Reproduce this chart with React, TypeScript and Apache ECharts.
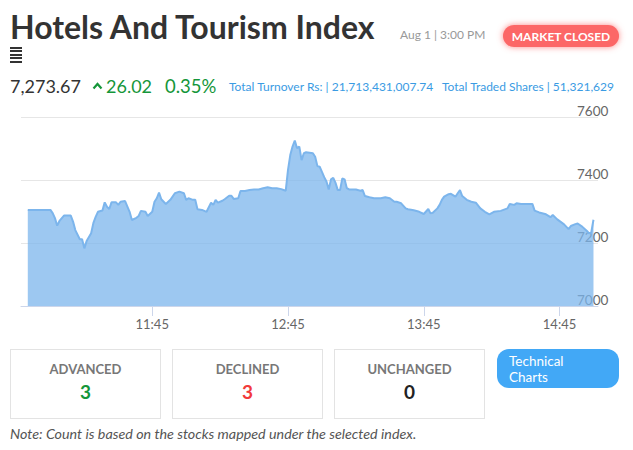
import { useEffect, useRef } from 'react';
import * as echarts from 'echarts';

// 指数分时数据（时间 / 点位）
const times = [
  '10:50', '11:00', '11:01', '11:02', '11:03', '11:04', '11:06', '11:09', '11:10', '11:11',
  '11:13', '11:14', '11:15', '11:16', '11:18', '11:19', '11:20', '11:21', '11:23', '11:24',
  '11:25', '11:26', '11:27', '11:29', '11:30', '11:31', '11:33', '11:35', '11:36', '11:38',
  '11:39', '11:40', '11:42', '11:43', '11:45', '11:46', '11:47', '11:48', '11:49', '11:51',
  '11:53', '11:55', '11:57', '11:59', '12:00', '12:01', '12:03', '12:04', '12:05', '12:07',
  '12:09', '12:11', '12:12', '12:13', '12:14', '12:16', '12:17', '12:19', '12:20', '12:21',
  '12:23', '12:24', '12:26', '12:28', '12:30', '12:32', '12:34', '12:36', '12:38', '12:40',
  '12:42', '12:44', '12:45', '12:46', '12:47', '12:48', '12:49', '12:50', '12:51', '12:52',
  '12:53', '12:56', '12:57', '12:58', '12:59', '13:00', '13:01', '13:02', '13:03', '13:04',
  '13:05', '13:06', '13:07', '13:08', '13:09', '13:10', '13:11', '13:12', '13:15', '13:17',
  '13:18', '13:19', '13:21', '13:23', '13:26', '13:28', '13:30', '13:32', '13:33', '13:35',
  '13:37', '13:38', '13:40', '13:41', '13:43', '13:45', '13:47', '13:48', '13:49', '13:51',
  '13:52', '13:53', '13:54', '13:56', '13:57', '13:59', '14:00', '14:01', '14:02', '14:04',
  '14:06', '14:08', '14:10', '14:12', '14:14', '14:16', '14:19', '14:22', '14:23', '14:25',
  '14:26', '14:28', '14:30', '14:33', '14:34', '14:36', '14:39', '14:41', '14:42', '14:44',
  '14:47', '14:49', '14:50', '14:52', '14:53', '14:55', '14:57', '14:58', '14:59', '15:00'
];
const indexValues = [
  7305, 7305, 7295, 7279, 7255, 7270, 7287, 7287, 7268, 7241,
  7212, 7212, 7183, 7206, 7231, 7264, 7283, 7299, 7303, 7329,
  7315, 7308, 7329, 7329, 7321, 7331, 7333, 7299, 7273, 7280,
  7286, 7302, 7299, 7286, 7299, 7331, 7342, 7360, 7339, 7324,
  7337, 7358, 7363, 7358, 7337, 7342, 7337, 7337, 7307, 7305,
  7299, 7328, 7321, 7337, 7328, 7334, 7339, 7350, 7350, 7340,
  7342, 7365, 7365, 7368, 7370, 7370, 7374, 7377, 7374, 7374,
  7371, 7366, 7432, 7479, 7506, 7525, 7501, 7506, 7463, 7485,
  7488, 7485, 7474, 7444, 7442, 7426, 7409, 7395, 7370, 7402,
  7407, 7391, 7368, 7368, 7405, 7402, 7374, 7370, 7370, 7366,
  7368, 7349, 7345, 7342, 7342, 7345, 7342, 7331, 7331, 7326,
  7310, 7307, 7305, 7303, 7299, 7292, 7308, 7294, 7296, 7310,
  7321, 7337, 7347, 7355, 7356, 7347, 7358, 7368, 7349, 7337,
  7331, 7328, 7310, 7299, 7291, 7299, 7302, 7310, 7324, 7321,
  7326, 7324, 7324, 7324, 7303, 7297, 7291, 7282, 7289, 7275,
  7259, 7244, 7254, 7260, 7262, 7252, 7239, 7231, 7233, 7273.67
];
const xTickTimes = ['11:45', '12:45', '13:45', '14:45'];
const yTicks = [7000, 7200, 7400, 7600];
const axisStart = '10:47';
const axisEnd = '15:02';

const counts = [
  { label: 'ADVANCED', value: 3, color: '#15963a' },
  { label: 'DECLINED', value: 3, color: '#f23a3a' },
  { label: 'UNCHANGED', value: 0, color: '#222' }
];

const FONT = 'Lato, "Open Sans", sans-serif';

const toMinutes = (t: string) => {
  const [h, m] = t.split(':').map(Number);
  return h * 60 + m;
};
const fromMinutes = (v: number) => {
  const h = Math.floor(v / 60);
  const m = Math.round(v - h * 60);
  return `${h}:${m.toString().padStart(2, '0')}`;
};

function IndexChart() {
  const chartRef = useRef<HTMLDivElement>(null);

  useEffect(() => {
    if (!chartRef.current) return;
    const chart = echarts.init(chartRef.current, null, { renderer: 'svg' });
    const tickValues = xTickTimes.map(toMinutes);

    chart.setOption({
      animation: false,
      grid: { left: 21, right: 35, top: 17, bottom: 34 },
      xAxis: {
        type: 'value',
        min: toMinutes(axisStart),
        max: toMinutes(axisEnd),
        axisLine: { lineStyle: { color: '#ccd6eb', width: 1 } },
        axisTick: { show: true, length: 10, customValues: tickValues, lineStyle: { color: '#ccd6eb' } },
        axisLabel: {
          customValues: tickValues,
          formatter: (v: number) => fromMinutes(v),
          color: '#666',
          fontSize: 13,
          fontFamily: FONT,
          margin: 11
        },
        splitLine: { show: false }
      },
      yAxis: {
        type: 'value',
        position: 'right',
        min: yTicks[0],
        max: yTicks[yTicks.length - 1],
        interval: 200,
        axisLine: { show: false },
        axisTick: { show: false },
        axisLabel: {
          formatter: (v: number) => String(v),
          color: '#666',
          fontSize: 13.5,
          fontFamily: FONT,
          margin: -21,
          verticalAlign: 'bottom',
          lineHeight: 12
        },
        splitLine: { lineStyle: { color: '#e6e6e6', width: 1 } }
      },
      series: [{
        type: 'line',
        data: times.map((t, i) => [toMinutes(t), indexValues[i]]),
        showSymbol: false,
        lineStyle: { color: '#7cb5ec', width: 2 },
        areaStyle: { color: '#7cb5ec', opacity: 0.75 },
        z: 1
      }]
    });

    return () => chart.dispose();
  }, []);

  return (
    <div
      ref={chartRef}
      style={{ position: 'absolute', left: 0, top: 100, width: 633, height: 240 }}
    />
  );
}

export default function App() {
  return (
    <div
      style={{
        position: 'absolute', left: 0, top: 0, width: 633, height: 450,
        background: '#fff', fontFamily: FONT, overflow: 'hidden'
      }}
    >
      {/* 标题 */}
      <div style={{ position: 'absolute', left: 10, top: 7, fontSize: 32, fontWeight: 700, color: '#333', whiteSpace: 'nowrap' }}>
        Hotels And Tourism Index
      </div>
      <div style={{ position: 'absolute', left: 400, top: 27, fontSize: 12, color: '#999', whiteSpace: 'nowrap' }}>
        Aug 1 | 3:00 PM
      </div>
      <div
        style={{
          position: 'absolute', left: 503, top: 25, width: 116, height: 22, borderRadius: 11,
          background: '#fc6767', color: '#fff', fontSize: 12, fontWeight: 700,
          display: 'flex', alignItems: 'center', justifyContent: 'center',
          boxShadow: '0 0 6px rgba(252, 90, 90, 0.7)'
        }}
      >
        MARKET CLOSED
      </div>
      {/* 菜单图标 */}
      <div style={{ position: 'absolute', left: 10, top: 47, width: 12 }}>
        {[0, 1, 2, 3, 4].map(i => (
          <div key={i} style={{ height: 2, background: '#333', marginBottom: 1.4 }} />
        ))}
      </div>

      {/* 指数信息 */}
      <div style={{ position: 'absolute', left: 10, top: 75, fontSize: 18, color: '#333', whiteSpace: 'nowrap' }}>
        7,273.67
      </div>
      <svg style={{ position: 'absolute', left: 92, top: 82 }} width={11} height={8}>
        <polyline points="1.5,6.5 5.5,2 9.5,6.5" fill="none" stroke="#15963a" strokeWidth={2.2} />
      </svg>
      <div style={{ position: 'absolute', left: 106, top: 75, fontSize: 18, color: '#15963a', whiteSpace: 'nowrap' }}>
        26.02
      </div>
      <div style={{ position: 'absolute', left: 165, top: 75, fontSize: 18.5, color: '#15963a', whiteSpace: 'nowrap' }}>
        0.35%
      </div>
      <div style={{ position: 'absolute', left: 229, top: 79, fontSize: 12, color: '#3a9be3', whiteSpace: 'nowrap' }}>
        Total Turnover Rs: | 21,713,431,007.74
      </div>
      <div style={{ position: 'absolute', left: 442, top: 79, fontSize: 12, color: '#3a9be3', whiteSpace: 'nowrap' }}>
        Total Traded Shares | 51,321,629
      </div>

      <IndexChart />

      {/* 涨跌统计 */}
      {counts.map((c, i) => (
        <div
          key={c.label}
          style={{
            position: 'absolute', left: 10 + i * 162, top: 349, width: 151, height: 70,
            border: '1px solid #e3e3e3', boxSizing: 'border-box', textAlign: 'center'
          }}
        >
          <div style={{ marginTop: 11, fontSize: 13, fontWeight: 700, color: '#777' }}>{c.label}</div>
          <div style={{ marginTop: 3, fontSize: 19, fontWeight: 700, color: c.color }}>{c.value}</div>
        </div>
      ))}
      <div
        style={{
          position: 'absolute', left: 497, top: 349, width: 122, height: 39, borderRadius: 12,
          background: '#42a8f6', color: '#fff', fontSize: 13.5
        }}
      >
        <div style={{ position: 'absolute', left: 12, top: 4, lineHeight: '16px' }}>Technical</div>
        <div style={{ position: 'absolute', left: 12, top: 20, lineHeight: '16px' }}>Charts</div>
      </div>
      <div style={{ position: 'absolute', left: 10, top: 425, fontSize: 14.3, fontStyle: 'italic', color: '#555', whiteSpace: 'nowrap' }}>
        Note: Count is based on the stocks mapped under the selected index.
      </div>
    </div>
  );
}
